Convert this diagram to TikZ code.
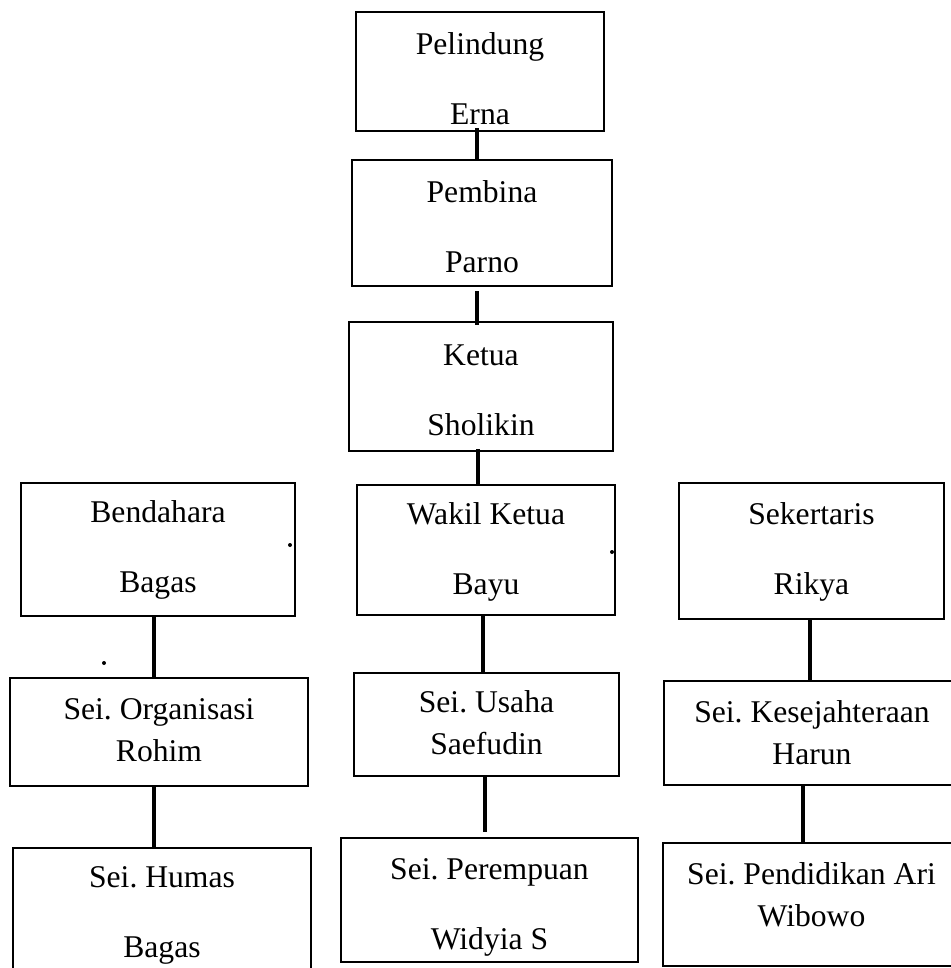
\documentclass[tikz,border=0pt]{standalone}
\usepackage{fontspec}
\setmainfont{Liberation Serif}
\usepackage{tikz}
\usetikzlibrary{calc}
\tikzset{
  unit/.style={draw, line width=0.6mm, inner sep=0pt, align=center,
               font=\fontsize{27}{59}\selectfont\frenchspacing},
  section/.style={unit, font=\fontsize{27}{36}\selectfont\frenchspacing},
  textbase/.style={text depth=0pt, text height=#1},
  link/.style={line width=1.2mm},
  speck/.style={fill=black},
}

\begin{document}
\begin{tikzpicture}[x=0.3mm, y=-0.3mm]

  \useasboundingbox (0,0) rectangle (951,968);
  \clip (0,0) rectangle (951,968);

  % --- Pimpinan ---
  \node[unit, textbase=31.5mm, minimum width=74.4mm, minimum height=35.7mm]
    (pelindung) at (480,71.5) {Pelindung\\Erna};
  \node[unit, textbase=29.4mm, minimum width=78mm, minimum height=37.8mm]
    (pembina) at (482,223) {Pembina\\Parno};
  \node[unit, textbase=29.1mm, minimum width=79.2mm, minimum height=38.7mm]
    (ketua) at (481,386.5) {Ketua\\Sholikin};

  % --- Pengurus harian ---
  \node[unit, textbase=25.5mm, minimum width=82.2mm, minimum height=39.9mm]
    (bendahara) at (158,549.5) {Bendahara\\Bagas};
  \node[unit, textbase=26.4mm, minimum width=77.4mm, minimum height=39mm]
    (wakil) at (486,550) {Wakil Ketua\\Bayu};
  \node[unit, textbase=25.8mm, minimum width=79.5mm, minimum height=40.8mm]
    (sekertaris) at (811.5,551) {Sekertaris\\Rikya};

  % --- Seksi ---
  \node[section, textbase=17.94mm, minimum width=89.4mm, minimum height=32.4mm]
    (organisasi) at (159,732) {Sei. Organisasi\\Rohim};
  \node[section, textbase=18.24mm, minimum width=79.5mm, minimum height=30.9mm]
    (usaha) at (486.5,724.5) {Sei. Usaha\\Saefudin};
  \node[section, textbase=19.14mm, minimum width=88.8mm, minimum height=31.2mm]
    (kesejahteraan) at (812,733) {Sei. Kesejahteraan\\Harun};

  \node[unit, textbase=24.9mm, minimum width=89.4mm, minimum height=40.5mm]
    (humas) at (162,915.5) {Sei. Humas\\Bagas};
  \node[unit, textbase=29.4mm, minimum width=89.1mm, minimum height=37.2mm]
    (perempuan) at (489.5,900) {Sei. Perempuan\\Widyia S};
  \node[section, textbase=13.44mm, minimum width=89.1mm, minimum height=36.9mm]
    (pendidikan) at (811.5,904.5) {Sei. Pendidikan Ari\\Wibowo};

  % --- Garis ---
  \draw[link] ($(pelindung.south)+(-3,-4)$) -- ($(pembina.north)+(-5,0)$);
  \draw[link] ($(pembina.south)+(-5,4)$) -- ($(ketua.north)+(-4,4)$);
  \draw[link] ($(ketua.south)+(-3,-3)$) -- ($(wakil.north)+(-8,0)$);
  \draw[link] ($(bendahara.south)+(-4,0)$) -- ($(organisasi.north)+(-5,0)$);
  \draw[link] ($(organisasi.south)+(-5,0)$) -- ($(humas.north)+(-8,0)$);
  \draw[link] ($(wakil.south)+(-3,0)$) -- ($(usaha.north)+(-3.5,0)$);
  \draw[link] ($(usaha.south)+(-1.5,-2)$) -- ($(perempuan.north)+(-4.5,-5)$);
  \draw[link] ($(sekertaris.south)+(-1.5,0)$) -- ($(kesejahteraan.north)+(-2,0)$);
  \draw[link] ($(kesejahteraan.south)+(-9,0)$) -- ($(pendidikan.north)+(-8.5,0)$);

  % titik kecil
  \fill[speck] (290,545) circle (2);
  \fill[speck] (612,552) circle (2);
  \fill[speck] (104,663) circle (2);

\end{tikzpicture}
\end{document}
